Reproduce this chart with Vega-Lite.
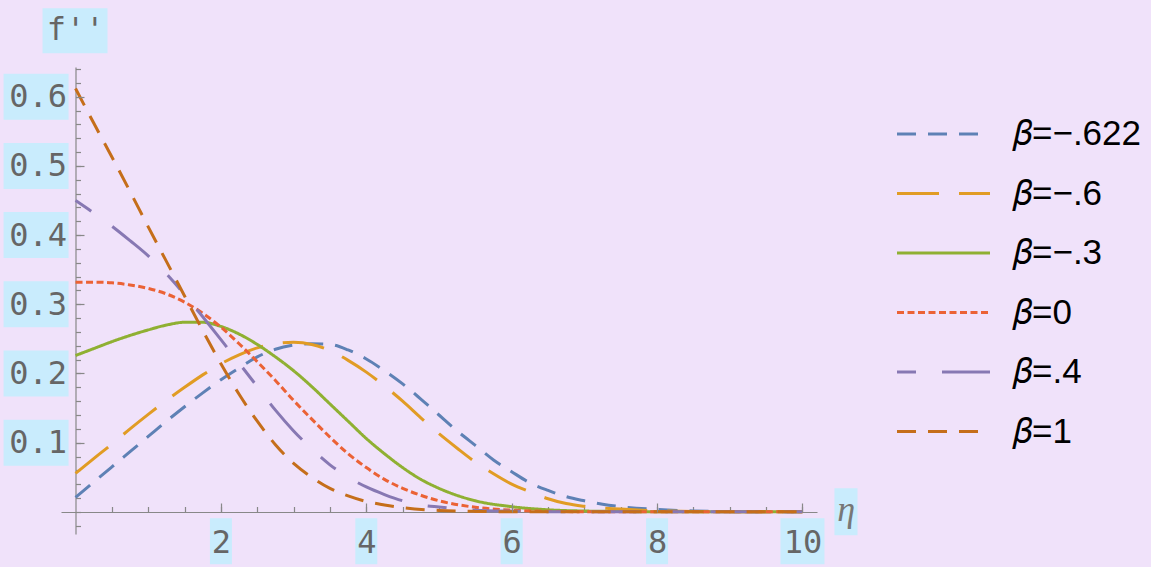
{
  "$schema": "https://vega.github.io/schema/vega-lite/v6.json",
  "width": 756,
  "height": 467,
  "autosize": "none",
  "padding": {"left": 61, "top": 67, "right": 334, "bottom": 33},
  "background": "#F0E2FA",
  "config": {
    "view": {"stroke": null},
    "scale": {"nice": false, "continuousPadding": 0},
    "axis": {"domainColor": "#888888", "tickColor": "#888888", "labelColor": "#666666", "labelFont": "DejaVu Sans Mono", "labelFontSize": 32, "grid": false, "title": null, "tickWidth": 1.2, "domainWidth": 1.2}
  },
  "datasets": {
    "ylab": [{"v": 0.1}, {"v": 0.2}, {"v": 0.3}, {"v": 0.4}, {"v": 0.5}, {"v": 0.6}],
    "xlab": [{"v": 2}, {"v": 4}, {"v": 6}, {"v": 8}],
    "curves": [
      {"s": "𝛽=−.622", "x": 0, "y": 0.021}, {"s": "𝛽=−.622", "x": 0.25, "y": 0.043}, {"s": "𝛽=−.622", "x": 0.5, "y": 0.065}, {"s": "𝛽=−.622", "x": 0.75, "y": 0.087}, {"s": "𝛽=−.622", "x": 1, "y": 0.109}, {"s": "𝛽=−.622", "x": 1.25, "y": 0.131}, {"s": "𝛽=−.622", "x": 1.5, "y": 0.152}, {"s": "𝛽=−.622", "x": 1.75, "y": 0.172}, {"s": "𝛽=−.622", "x": 2, "y": 0.191}, {"s": "𝛽=−.622", "x": 2.25, "y": 0.208}, {"s": "𝛽=−.622", "x": 2.5, "y": 0.224}, {"s": "𝛽=−.622", "x": 2.75, "y": 0.235}, {"s": "𝛽=−.622", "x": 3, "y": 0.241}, {"s": "𝛽=−.622", "x": 3.25, "y": 0.243}, {"s": "𝛽=−.622", "x": 3.5, "y": 0.242}, {"s": "𝛽=−.622", "x": 3.75, "y": 0.234}, {"s": "𝛽=−.622", "x": 4, "y": 0.221}, {"s": "𝛽=−.622", "x": 4.25, "y": 0.204}, {"s": "𝛽=−.622", "x": 4.5, "y": 0.185}, {"s": "𝛽=−.622", "x": 4.75, "y": 0.163}, {"s": "𝛽=−.622", "x": 5, "y": 0.14}, {"s": "𝛽=−.622", "x": 5.25, "y": 0.117}, {"s": "𝛽=−.622", "x": 5.5, "y": 0.096}, {"s": "𝛽=−.622", "x": 5.75, "y": 0.075}, {"s": "𝛽=−.622", "x": 6, "y": 0.058}, {"s": "𝛽=−.622", "x": 6.25, "y": 0.042}, {"s": "𝛽=−.622", "x": 6.5, "y": 0.031}, {"s": "𝛽=−.622", "x": 6.75, "y": 0.022}, {"s": "𝛽=−.622", "x": 7, "y": 0.016}, {"s": "𝛽=−.622", "x": 7.25, "y": 0.011}, {"s": "𝛽=−.622", "x": 7.5, "y": 0.0075}, {"s": "𝛽=−.622", "x": 8, "y": 0.0035}, {"s": "𝛽=−.622", "x": 8.5, "y": 0.0013}, {"s": "𝛽=−.622", "x": 9, "y": 0.0004}, {"s": "𝛽=−.622", "x": 9.5, "y": 0.0001}, {"s": "𝛽=−.622", "x": 10, "y": 0},
      {"s": "𝛽=−.6", "x": 0, "y": 0.0555}, {"s": "𝛽=−.6", "x": 0.25, "y": 0.077}, {"s": "𝛽=−.6", "x": 0.5, "y": 0.098}, {"s": "𝛽=−.6", "x": 0.75, "y": 0.12}, {"s": "𝛽=−.6", "x": 1, "y": 0.141}, {"s": "𝛽=−.6", "x": 1.25, "y": 0.161}, {"s": "𝛽=−.6", "x": 1.5, "y": 0.18}, {"s": "𝛽=−.6", "x": 1.75, "y": 0.198}, {"s": "𝛽=−.6", "x": 2, "y": 0.214}, {"s": "𝛽=−.6", "x": 2.25, "y": 0.227}, {"s": "𝛽=−.6", "x": 2.5, "y": 0.237}, {"s": "𝛽=−.6", "x": 2.75, "y": 0.243}, {"s": "𝛽=−.6", "x": 3, "y": 0.245}, {"s": "𝛽=−.6", "x": 3.25, "y": 0.242}, {"s": "𝛽=−.6", "x": 3.5, "y": 0.233}, {"s": "𝛽=−.6", "x": 3.75, "y": 0.219}, {"s": "𝛽=−.6", "x": 4, "y": 0.202}, {"s": "𝛽=−.6", "x": 4.25, "y": 0.182}, {"s": "𝛽=−.6", "x": 4.5, "y": 0.16}, {"s": "𝛽=−.6", "x": 4.75, "y": 0.136}, {"s": "𝛽=−.6", "x": 5, "y": 0.113}, {"s": "𝛽=−.6", "x": 5.25, "y": 0.092}, {"s": "𝛽=−.6", "x": 5.5, "y": 0.072}, {"s": "𝛽=−.6", "x": 5.75, "y": 0.055}, {"s": "𝛽=−.6", "x": 6, "y": 0.04}, {"s": "𝛽=−.6", "x": 6.25, "y": 0.029}, {"s": "𝛽=−.6", "x": 6.5, "y": 0.019}, {"s": "𝛽=−.6", "x": 6.75, "y": 0.012}, {"s": "𝛽=−.6", "x": 7, "y": 0.008}, {"s": "𝛽=−.6", "x": 7.5, "y": 0.004}, {"s": "𝛽=−.6", "x": 8, "y": 0.0015}, {"s": "𝛽=−.6", "x": 8.5, "y": 0.0005}, {"s": "𝛽=−.6", "x": 9, "y": 0.0001}, {"s": "𝛽=−.6", "x": 10, "y": 0},
      {"s": "𝛽=−.3", "x": 0, "y": 0.226}, {"s": "𝛽=−.3", "x": 0.25, "y": 0.236}, {"s": "𝛽=−.3", "x": 0.5, "y": 0.246}, {"s": "𝛽=−.3", "x": 0.75, "y": 0.255}, {"s": "𝛽=−.3", "x": 1, "y": 0.263}, {"s": "𝛽=−.3", "x": 1.25, "y": 0.27}, {"s": "𝛽=−.3", "x": 1.5, "y": 0.274}, {"s": "𝛽=−.3", "x": 1.75, "y": 0.274}, {"s": "𝛽=−.3", "x": 2, "y": 0.268}, {"s": "𝛽=−.3", "x": 2.25, "y": 0.257}, {"s": "𝛽=−.3", "x": 2.5, "y": 0.242}, {"s": "𝛽=−.3", "x": 2.75, "y": 0.224}, {"s": "𝛽=−.3", "x": 3, "y": 0.204}, {"s": "𝛽=−.3", "x": 3.25, "y": 0.181}, {"s": "𝛽=−.3", "x": 3.5, "y": 0.156}, {"s": "𝛽=−.3", "x": 3.75, "y": 0.131}, {"s": "𝛽=−.3", "x": 4, "y": 0.106}, {"s": "𝛽=−.3", "x": 4.25, "y": 0.084}, {"s": "𝛽=−.3", "x": 4.5, "y": 0.064}, {"s": "𝛽=−.3", "x": 4.75, "y": 0.047}, {"s": "𝛽=−.3", "x": 5, "y": 0.034}, {"s": "𝛽=−.3", "x": 5.5, "y": 0.016}, {"s": "𝛽=−.3", "x": 6, "y": 0.0075}, {"s": "𝛽=−.3", "x": 6.5, "y": 0.003}, {"s": "𝛽=−.3", "x": 7, "y": 0.0012}, {"s": "𝛽=−.3", "x": 8, "y": 0.0002}, {"s": "𝛽=−.3", "x": 10, "y": 0},
      {"s": "𝛽=0", "x": 0, "y": 0.332}, {"s": "𝛽=0", "x": 0.25, "y": 0.332}, {"s": "𝛽=0", "x": 0.5, "y": 0.331}, {"s": "𝛽=0", "x": 0.75, "y": 0.328}, {"s": "𝛽=0", "x": 1, "y": 0.323}, {"s": "𝛽=0", "x": 1.25, "y": 0.315}, {"s": "𝛽=0", "x": 1.5, "y": 0.303}, {"s": "𝛽=0", "x": 1.75, "y": 0.287}, {"s": "𝛽=0", "x": 2, "y": 0.267}, {"s": "𝛽=0", "x": 2.25, "y": 0.243}, {"s": "𝛽=0", "x": 2.5, "y": 0.217}, {"s": "𝛽=0", "x": 2.75, "y": 0.19}, {"s": "𝛽=0", "x": 3, "y": 0.161}, {"s": "𝛽=0", "x": 3.25, "y": 0.134}, {"s": "𝛽=0", "x": 3.5, "y": 0.108}, {"s": "𝛽=0", "x": 3.75, "y": 0.084}, {"s": "𝛽=0", "x": 4, "y": 0.064}, {"s": "𝛽=0", "x": 4.25, "y": 0.047}, {"s": "𝛽=0", "x": 4.5, "y": 0.034}, {"s": "𝛽=0", "x": 4.75, "y": 0.024}, {"s": "𝛽=0", "x": 5, "y": 0.016}, {"s": "𝛽=0", "x": 5.5, "y": 0.0066}, {"s": "𝛽=0", "x": 6, "y": 0.0024}, {"s": "𝛽=0", "x": 6.5, "y": 0.0008}, {"s": "𝛽=0", "x": 7, "y": 0.0002}, {"s": "𝛽=0", "x": 8, "y": 0}, {"s": "𝛽=0", "x": 10, "y": 0},
      {"s": "𝛽=.4", "x": 0, "y": 0.45}, {"s": "𝛽=.4", "x": 0.25, "y": 0.432}, {"s": "𝛽=.4", "x": 0.5, "y": 0.413}, {"s": "𝛽=.4", "x": 0.75, "y": 0.392}, {"s": "𝛽=.4", "x": 1, "y": 0.37}, {"s": "𝛽=.4", "x": 1.25, "y": 0.344}, {"s": "𝛽=.4", "x": 1.5, "y": 0.314}, {"s": "𝛽=.4", "x": 1.75, "y": 0.282}, {"s": "𝛽=.4", "x": 2, "y": 0.249}, {"s": "𝛽=.4", "x": 2.25, "y": 0.215}, {"s": "𝛽=.4", "x": 2.5, "y": 0.181}, {"s": "𝛽=.4", "x": 2.75, "y": 0.147}, {"s": "𝛽=.4", "x": 3, "y": 0.117}, {"s": "𝛽=.4", "x": 3.25, "y": 0.091}, {"s": "𝛽=.4", "x": 3.5, "y": 0.068}, {"s": "𝛽=.4", "x": 3.75, "y": 0.05}, {"s": "𝛽=.4", "x": 4, "y": 0.036}, {"s": "𝛽=.4", "x": 4.25, "y": 0.025}, {"s": "𝛽=.4", "x": 4.5, "y": 0.016}, {"s": "𝛽=.4", "x": 4.75, "y": 0.01}, {"s": "𝛽=.4", "x": 5, "y": 0.007}, {"s": "𝛽=.4", "x": 5.5, "y": 0.0025}, {"s": "𝛽=.4", "x": 6, "y": 0.001}, {"s": "𝛽=.4", "x": 6.5, "y": 0.0003}, {"s": "𝛽=.4", "x": 7, "y": 0}, {"s": "𝛽=.4", "x": 10, "y": 0},
      {"s": "𝛽=1", "x": 0, "y": 0.612}, {"s": "𝛽=1", "x": 0.25, "y": 0.562}, {"s": "𝛽=1", "x": 0.5, "y": 0.513}, {"s": "𝛽=1", "x": 0.75, "y": 0.463}, {"s": "𝛽=1", "x": 1, "y": 0.412}, {"s": "𝛽=1", "x": 1.25, "y": 0.362}, {"s": "𝛽=1", "x": 1.5, "y": 0.312}, {"s": "𝛽=1", "x": 1.75, "y": 0.262}, {"s": "𝛽=1", "x": 2, "y": 0.214}, {"s": "𝛽=1", "x": 2.25, "y": 0.17}, {"s": "𝛽=1", "x": 2.5, "y": 0.131}, {"s": "𝛽=1", "x": 2.75, "y": 0.097}, {"s": "𝛽=1", "x": 3, "y": 0.07}, {"s": "𝛽=1", "x": 3.25, "y": 0.05}, {"s": "𝛽=1", "x": 3.5, "y": 0.034}, {"s": "𝛽=1", "x": 3.75, "y": 0.023}, {"s": "𝛽=1", "x": 4, "y": 0.015}, {"s": "𝛽=1", "x": 4.25, "y": 0.01}, {"s": "𝛽=1", "x": 4.5, "y": 0.006}, {"s": "𝛽=1", "x": 5, "y": 0.002}, {"s": "𝛽=1", "x": 5.5, "y": 0.0007}, {"s": "𝛽=1", "x": 6, "y": 0.0002}, {"s": "𝛽=1", "x": 7, "y": 0}, {"s": "𝛽=1", "x": 10, "y": 0}
    ]
  },
  "layer": [
    {
      "data": {"name": "ylab"},
      "mark": {"type": "bar", "height": 46, "color": "#C9ECFD"},
      "encoding": {
        "y": {"field": "v", "type": "quantitative", "scale": {"domain": [-0.032, 0.643]},
              "axis": {"orient": "left", "offset": -14.5, "values": [-0.02, 0, 0.02, 0.04, 0.06, 0.08, 0.1, 0.12, 0.14, 0.16, 0.18, 0.2, 0.22, 0.24, 0.26, 0.28, 0.3, 0.32, 0.34, 0.36, 0.38, 0.4, 0.42, 0.44, 0.46, 0.48, 0.5, 0.52, 0.54, 0.56, 0.58, 0.6, 0.62, 0.64], "tickSize": -5, "labels": false, "domain": true}},
        "x": {"datum": -0.99, "type": "quantitative", "scale": {"domain": [-0.2, 10.2]}, "axis": null},
        "x2": {"datum": -0.096}
      }
    },
    {
      "data": {"name": "xlab"},
      "mark": {"type": "bar", "width": 22, "color": "#C9ECFD"},
      "encoding": {
        "x": {"field": "v", "type": "quantitative", "scale": {"domain": [-0.2, 10.2]},
              "axis": {"orient": "bottom", "offset": -22, "values": [0.5, 1, 1.5, 2, 2.5, 3, 3.5, 4, 4.5, 5, 5.5, 6, 6.5, 7, 7.5, 8, 8.5, 9, 9.5, 10], "tickSize": -5.5, "labels": false, "domain": true}},
        "y": {"datum": -0.0091, "type": "quantitative", "scale": {"domain": [-0.032, 0.643]}, "axis": null},
        "y2": {"datum": -0.0756}
      }
    },
    {
      "data": {"values": [{"v": 10}]},
      "mark": {"type": "bar", "width": 44, "color": "#C9ECFD"},
      "encoding": {
        "x": {"field": "v", "type": "quantitative", "scale": {"domain": [-0.2, 10.2]}, "axis": null},
        "y": {"datum": -0.0091, "type": "quantitative", "scale": {"domain": [-0.032, 0.643]}, "axis": null},
        "y2": {"datum": -0.0756}
      }
    },
    {
      "data": {"values": [{"t": "f''"}]},
      "mark": {"type": "rect", "color": "#C9ECFD"},
      "encoding": {
        "x": {"datum": -0.454, "type": "quantitative", "scale": {"domain": [-0.2, 10.2]}, "axis": null},
        "x2": {"datum": 0.44},
        "y": {"datum": 0.663, "type": "quantitative", "scale": {"domain": [-0.032, 0.643]}, "axis": null},
        "y2": {"datum": 0.728}
      }
    },
    {
      "data": {"values": [{"t": "η"}]},
      "mark": {"type": "rect", "color": "#C9ECFD"},
      "encoding": {
        "x": {"datum": 10.44, "type": "quantitative", "scale": {"domain": [-0.2, 10.2]}, "axis": null},
        "x2": {"datum": 10.757},
        "y": {"datum": -0.0337, "type": "quantitative", "scale": {"domain": [-0.032, 0.643]}, "axis": null},
        "y2": {"datum": 0.0342}
      }
    },
    {
      "data": {"values": [{"t": "f''"}]},
      "mark": {"type": "text", "font": "DejaVu Sans Mono", "fontSize": 32, "color": "#666666", "align": "center", "baseline": "middle"},
      "encoding": {
        "text": {"field": "t"},
        "x": {"datum": 0, "type": "quantitative", "scale": {"domain": [-0.2, 10.2]}, "axis": null},
        "y": {"datum": 0.696, "type": "quantitative", "scale": {"domain": [-0.032, 0.643]}, "axis": null}
      }
    },
    {
      "data": {"values": [{"t": "η"}]},
      "mark": {"type": "text", "font": "Liberation Serif", "fontStyle": "italic", "fontSize": 36, "color": "#777777", "align": "center", "baseline": "middle"},
      "encoding": {
        "text": {"field": "t"},
        "x": {"datum": 10.6, "type": "quantitative", "scale": {"domain": [-0.2, 10.2]}, "axis": null},
        "y": {"datum": 0.002, "type": "quantitative", "scale": {"domain": [-0.032, 0.643]}, "axis": null}
      }
    },
    {
      "data": {"name": "curves"},
      "mark": {"type": "line", "strokeWidth": 3, "interpolate": "monotone"},
      "encoding": {
        "x": {"field": "x", "type": "quantitative", "scale": {"domain": [-0.2, 10.2]},
              "axis": {"orient": "bottom", "offset": -22, "values": [2, 4, 6, 8, 10], "tickSize": -9, "labelPadding": 24, "domain": false, "zindex": 1}},
        "y": {"field": "y", "type": "quantitative", "scale": {"domain": [-0.032, 0.643]},
              "axis": {"orient": "left", "offset": -14.5, "values": [0.1, 0.2, 0.3, 0.4, 0.5, 0.6], "format": ".1f", "tickSize": -8.5, "labelPadding": 17.5, "domain": false, "zindex": 1}},
        "color": {"field": "s", "type": "nominal",
                  "scale": {"domain": ["𝛽=−.622", "𝛽=−.6", "𝛽=−.3", "𝛽=0", "𝛽=.4", "𝛽=1"], "range": ["#5E81B5", "#E19C24", "#8FB032", "#EB6235", "#8778B3", "#C56E1A"]},
                  "legend": {"orient": "none", "legendX": 834.5, "legendY": 52, "title": null, "padding": 0, "symbolType": "stroke", "symbolSize": 8649, "symbolStrokeWidth": 3, "clipHeight": 30, "rowPadding": 24.5, "labelFont": "Liberation Sans", "labelFontSize": 35, "labelColor": "#000000", "labelOffset": 21.5, "labelLimit": 300}},
        "strokeDash": {"field": "s", "type": "nominal",
                  "scale": {"domain": ["𝛽=−.622", "𝛽=−.6", "𝛽=−.3", "𝛽=0", "𝛽=.4", "𝛽=1"], "range": [[19, 12], [42, 20], [1, 0], [7, 3.5], [19, 26, 48, 26], [19, 12]]},
                  "legend": {"orient": "none", "legendX": 834.5, "legendY": 52, "title": null, "padding": 0, "symbolType": "stroke", "symbolSize": 8649, "symbolStrokeWidth": 3, "clipHeight": 30, "rowPadding": 24.5, "labelFont": "Liberation Sans", "labelFontSize": 35, "labelColor": "#000000", "labelOffset": 21.5, "labelLimit": 300}}
      }
    }
  ],
  "resolve": {"axis": {"x": "independent", "y": "independent"}}
}
